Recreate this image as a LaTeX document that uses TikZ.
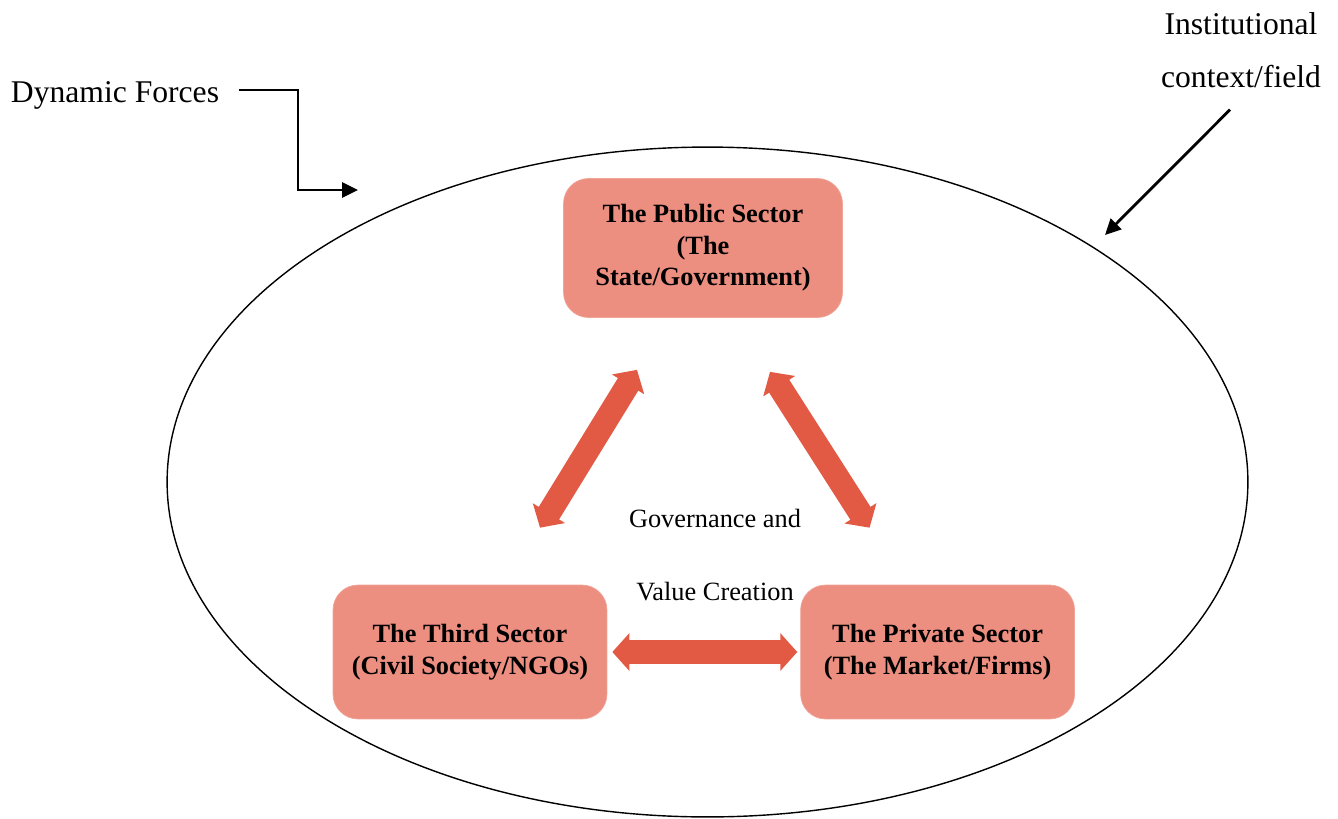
\documentclass[tikz,border=0pt]{standalone}
\usepackage{fontspec}
\setmainfont{Liberation Serif}
\usetikzlibrary{shapes,positioning,calc,arrows.meta}
\definecolor{salmon}{RGB}{236,142,128}
\definecolor{arrowred}{RGB}{226,89,68}

\begin{document}
\begin{tikzpicture}
  [x=0.02cm,y=-0.02cm,
   sectorN/.style={rectangle,rounded corners=0.5cm,fill=salmon,draw=salmon!80!white,
     minimum width=5.48cm,minimum height=2.68cm,align=center,
     font=\fontsize{15}{18}\selectfont\bfseries},
   fatA/.style={arrowred,line width=13.6pt,
     {Triangle[length=9.7pt,width=21pt]}-{Triangle[length=9.7pt,width=21pt]}},
   thinA/.style={line width=1.6pt,-{Triangle[length=9pt,width=8.5pt]}},
   labelN/.style={font=\fontsize{18}{30}\selectfont,align=center}]

  \useasboundingbox (0,0) rectangle (1338,818);

  \draw [line width=0.8pt] (707.5,482) ellipse [x radius=10.81cm, y radius=6.7cm];

  \node[sectorN,minimum width=5.58cm,minimum height=2.78cm] (pub) at (703,248)
    {The Public Sector\\(The\\State/Government)};
  \node[sectorN] (third) at (470,652) {The Third Sector\\(Civil Society/NGOs)};
  \node[sectorN] (priv) [right=3.86cm of third] {The Private Sector\\(The Market/Firms)};

  \node[font=\fontsize{15}{41.5}\selectfont,align=center] (gv) at (715,555)
    {Governance and\\Value Creation};

  \draw [fatA] ([shift={(70,-57)}]third.north) -- ([shift={(-66,52)}]pub.south);
  \draw [fatA] ([shift={(-68,-57)}]priv.north) -- ([shift={(67,54)}]pub.south);
  \draw [fatA] ([xshift=0.1cm]third.east) -- ([xshift=-0.06cm]priv.west);

  % outside labels
  \node[labelN] (df) at (115,95) {Dynamic Forces};
  \node[labelN] (ic) at (1241,50) {Institutional\\context/field};

  \coordinate (dfend) at (358,190);
  \coordinate (icend) at (1105,235);

  \draw [thinA] ([xshift=0.28cm,yshift=0.1cm]df.east) -| ([xshift=-1.2cm]dfend) -- (dfend);
  \draw [thinA] ([xshift=-0.22cm,yshift=-0.32cm]ic.south) -- (icend);
\end{tikzpicture}
\end{document}
